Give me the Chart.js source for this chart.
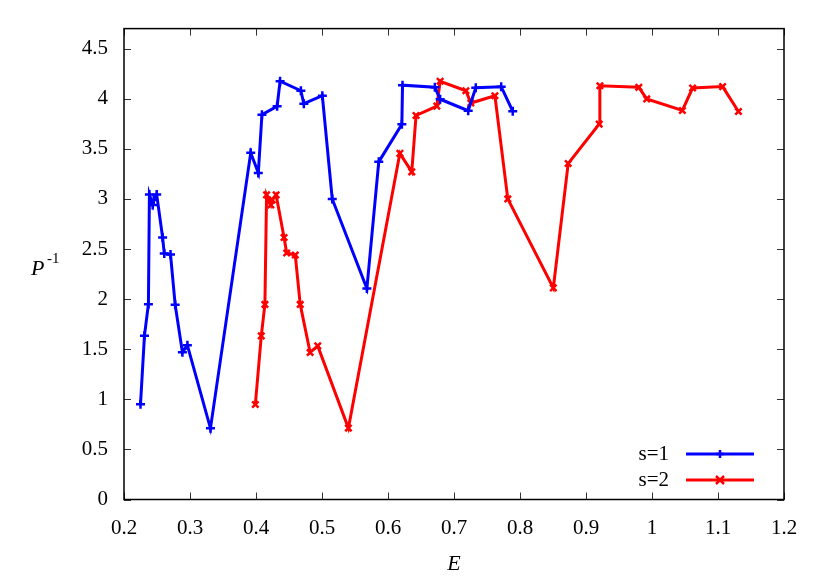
<!DOCTYPE html>
<html>
<head>
<meta charset="utf-8">
<script src="https://cdn.jsdelivr.net/npm/chart.js@4/dist/chart.umd.min.js"></script>
<style>
  html, body { margin: 0; padding: 0; background: #fff; }
  #wrap { width: 830px; height: 581px; position: relative; }
</style>
</head>
<body>
<div id="wrap"><canvas id="chart"></canvas></div>
<script>
// values
const labels = ["s=1", "s=2"];

const e1 = [0.225, 0.231, 0.237, 0.2385, 0.2435, 0.245, 0.2495, 0.2585, 0.261, 0.2705,
  0.2775, 0.2885, 0.296, 0.331, 0.392, 0.4035, 0.409, 0.432, 0.4365, 0.468,
  0.4725, 0.5005, 0.5155, 0.568, 0.586, 0.621, 0.622, 0.671, 0.679, 0.7215,
  0.733, 0.7715, 0.789];
const p1 = [0.95, 1.635, 1.95, 3.045, 2.94, 2.99, 3.045, 2.615, 2.455, 2.445,
  1.945, 1.47, 1.54, 0.71, 3.46, 3.26, 3.84, 3.925, 4.175, 4.08,
  3.95, 4.03, 3.0, 2.105, 3.37, 3.745, 4.135, 4.115, 3.995, 3.88,
  4.11, 4.12, 3.875];

const e2 = [0.399, 0.408, 0.4135, 0.416, 0.4225, 0.4245, 0.4305, 0.4425, 0.4465, 0.4595,
  0.467, 0.482, 0.4935, 0.54, 0.618, 0.636, 0.6425, 0.674, 0.679, 0.718,
  0.7255, 0.762, 0.7815, 0.8505, 0.873, 0.92, 0.921, 0.98, 0.992, 1.046,
  1.0615, 1.107, 1.131];
const p2 = [0.948, 1.633, 1.947, 3.04, 2.94, 2.99, 3.04, 2.615, 2.46, 2.44,
  1.947, 1.467, 1.533, 0.713, 3.455, 3.27, 3.833, 3.926, 4.174, 4.08,
  3.957, 4.03, 3.0, 2.112, 3.353, 3.747, 4.13, 4.114, 3.998, 3.883,
  4.107, 4.121, 3.873];

const xTicks = [0.2, 0.3, 0.4, 0.5, 0.6, 0.7, 0.8, 0.9, 1, 1.1, 1.2];
const yTicks = [0, 0.5, 1, 1.5, 2, 2.5, 3, 3.5, 4, 4.5];

const FONT = "'Liberation Serif', 'Times New Roman', Times, 'DejaVu Serif', serif";
const SIZE = 21;
const colors = ["#0000ff", "#ff0000"];
const styles = ["cross", "crossRot"];

const toPoints = (xs, ys) => xs.map((x, i) => ({ x, y: ys[i] }));

function drawMarker(ctx, style, x, y, r) {
  ctx.beginPath();
  if (style === "cross") {
    ctx.moveTo(x - r, y); ctx.lineTo(x + r, y);
    ctx.moveTo(x, y - r); ctx.lineTo(x, y + r);
  } else {
    ctx.moveTo(x - r, y - r); ctx.lineTo(x + r, y + r);
    ctx.moveTo(x - r, y + r); ctx.lineTo(x + r, y - r);
  }
  ctx.stroke();
}

// gnuplot style frame: border, inward ticks on all sides, legend, axis titles
const frame = {
  id: "frame",
  beforeDatasetsDraw(chart) {
    const { ctx, chartArea: a, scales } = chart;
    ctx.save();
    ctx.strokeStyle = "#333";
    ctx.lineWidth = 1;
    const t = 7;
    ctx.beginPath();
    xTicks.forEach(v => {
      const px = Math.round(scales.x.getPixelForValue(v)) + 0.5;
      ctx.moveTo(px, a.bottom); ctx.lineTo(px, a.bottom - t);
      ctx.moveTo(px, a.top); ctx.lineTo(px, a.top + t);
    });
    yTicks.forEach(v => {
      const py = Math.round(scales.y.getPixelForValue(v)) + 0.5;
      ctx.moveTo(a.left, py); ctx.lineTo(a.left + t, py);
      ctx.moveTo(a.right, py); ctx.lineTo(a.right - t, py);
    });
    ctx.stroke();
    ctx.strokeStyle = "#000";
    ctx.lineWidth = 1.5;
    ctx.strokeRect(a.left, a.top, a.right - a.left, a.bottom - a.top);
    ctx.restore();
  },
  afterDraw(chart) {
    const { ctx, chartArea: a } = chart;
    ctx.save();
    ctx.fillStyle = "#000";
    ctx.font = "italic " + (SIZE + 1) + "px " + FONT;
    ctx.textAlign = "center";
    ctx.textBaseline = "middle";
    ctx.fillText("E", (a.left + a.right) / 2, 564);
    ctx.textAlign = "left";
    ctx.fillText("P", 31, 269);
    ctx.font = "15px " + FONT;
    ctx.fillText("-1", 47, 259);

    // legend
    chart.data.datasets.forEach((ds, i) => {
      const y = 454 + i * 26;
      ctx.font = SIZE + "px " + FONT;
      ctx.textAlign = "right";
      ctx.fillStyle = "#000";
      ctx.fillText(ds.label, 669, y);
      ctx.strokeStyle = ds.borderColor;
      ctx.lineWidth = 3;
      ctx.beginPath();
      ctx.moveTo(686, y); ctx.lineTo(754, y);
      ctx.stroke();
      ctx.lineWidth = 2.5;
      drawMarker(ctx, ds.pointStyle, 720, y, 4);
    });
    ctx.restore();
  }
};

const datasets = [toPoints(e1, p1), toPoints(e2, p2)].map((data, i) => ({
  label: labels[i],
  data,
  showLine: true,
  borderColor: colors[i],
  backgroundColor: colors[i],
  borderWidth: 3,
  pointStyle: styles[i],
  pointRadius: 4.5,
  pointBorderWidth: 2.5,
  pointHoverRadius: 4.5,
  tension: 0,
}));

function build() {
  new Chart(document.getElementById("chart"), {
    type: "scatter",
    data: { datasets },
    options: {
      responsive: true,
      maintainAspectRatio: false,
      animation: false,
      layout: { padding: { top: 26, right: 46, left: 0, bottom: 0 } },
      plugins: {
        legend: { display: false },
        tooltip: { enabled: false },
      },
      scales: {
        x: {
          type: "linear",
          min: 0.2,
          max: 1.2,
          grid: { display: false, drawTicks: false, tickLength: 0 },
          border: { display: false },
          afterBuildTicks: s => { s.ticks = xTicks.map(value => ({ value })); },
          afterFit: s => { s.height = 81.5; },
          ticks: {
            padding: 16,
            color: "#000",
            font: { family: FONT, size: SIZE },
            maxRotation: 0,
            autoSkip: false,
            callback: v => String(+v.toFixed(2)),
          },
        },
        y: {
          type: "linear",
          min: 0,
          max: 4.7,
          grid: { display: false, drawTicks: false, tickLength: 0 },
          border: { display: false },
          afterBuildTicks: s => { s.ticks = yTicks.map(value => ({ value })); },
          afterFit: s => { s.width = 124; },
          ticks: {
            padding: 16,
            color: "#000",
            font: { family: FONT, size: SIZE },
            autoSkip: false,
            callback: v => String(+v.toFixed(2)),
          },
        },
      },
    },
    plugins: [frame],
  });
}

Promise.all([
  document.fonts.load(SIZE + "px 'Liberation Serif'"),
  document.fonts.load("italic " + SIZE + "px 'Liberation Serif'"),
]).catch(() => {}).then(build);
</script>
</body>
</html>
